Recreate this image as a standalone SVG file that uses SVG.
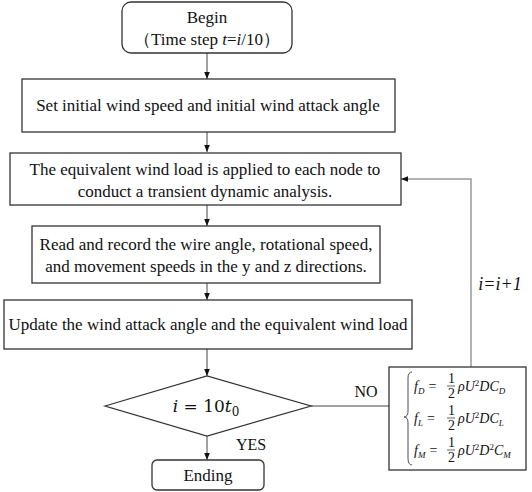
<svg xmlns="http://www.w3.org/2000/svg" width="532" height="492" viewBox="0 0 532 492">
<style>
.box{fill:#fff;stroke:#333;stroke-width:1.3}
.t{font-family:'Liberation Serif','Times New Roman',serif;font-size:17px;fill:#111;text-anchor:middle}
.f{font-family:'Liberation Serif','Times New Roman',serif;font-size:14px;fill:#111;font-style:italic}
.n{font-style:normal}
.ln{stroke:#444;stroke-width:1;fill:none}
.gl{stroke:#999;stroke-width:1.5;fill:none}
</style>
<defs>
<marker id="ah" viewBox="0 0 10 10" refX="10" refY="5" markerWidth="7" markerHeight="7" markerUnits="userSpaceOnUse" orient="auto">
<path d="M0,1 L10,5 L0,9 z" fill="#111"/>
</marker>
</defs>
<rect width="532" height="492" fill="#fff"/>
<g id="connectors">
<line class="ln" x1="207" y1="53" x2="207" y2="79" marker-end="url(#ah)"/>
<line class="ln" x1="207" y1="132" x2="207" y2="152" marker-end="url(#ah)"/>
<line class="ln" x1="207" y1="205" x2="207" y2="226" marker-end="url(#ah)"/>
<line class="ln" x1="207" y1="283" x2="207" y2="300" marker-end="url(#ah)"/>
<line class="ln" x1="207" y1="349" x2="207" y2="376" marker-end="url(#ah)"/>
<line class="ln" x1="207" y1="436" x2="207" y2="460" marker-end="url(#ah)"/>
<line class="ln" x1="311" y1="406" x2="389" y2="406"/>
<polyline class="gl" points="471,367 471,179 401,179" marker-end="url(#ah)"/>
<text class="t" x="366" y="397" style="font-size:16px">NO</text>
<text class="t" x="251" y="450" style="font-size:16px">YES</text>
<text class="t" x="500" y="290" style="font-style:italic;font-size:18px">i=i+1</text>
</g>
<g id="begin">
<rect class="box" x="122" y="2" width="170" height="51" rx="9"/>
<text class="t" x="207" y="23">Begin</text>
<text class="t" x="207" y="45">（Time step <tspan font-style="italic">t</tspan>=<tspan font-style="italic">i</tspan>/10）</text>
</g>
<g id="set">
<rect class="box" x="22" y="79" width="373" height="53"/>
<text class="t" x="208" y="111">Set initial wind speed and initial wind attack angle</text>
</g>
<g id="equivalent">
<rect class="box" x="10" y="153" width="391" height="52"/>
<text class="t" x="205" y="175">The equivalent wind load is applied to each node to</text>
<text class="t" x="205" y="197">conduct a transient dynamic analysis.</text>
</g>
<g id="read">
<rect class="box" x="32" y="226" width="348" height="57"/>
<text class="t" x="206" y="250">Read and record the wire angle, rotational speed,</text>
<text class="t" x="206" y="272">and movement speeds in the y and z directions.</text>
</g>
<g id="update">
<rect class="box" x="4" y="300" width="408" height="49"/>
<text class="t" x="208" y="330">Update the wind attack angle and the equivalent wind load</text>
</g>
<g id="decision">
<polygon class="box" points="105,406 207,376 311,406 207,436"/>
<text class="t" x="206" y="412" style="font-family:'DejaVu Serif',serif;font-size:17px"><tspan font-style="italic">i</tspan> = 10<tspan font-style="italic">t</tspan><tspan font-size="12" dy="4">0</tspan></text>
</g>
<g id="ending">
<rect class="box" x="152" y="460" width="112" height="30" rx="5"/>
<text class="t" x="208" y="481">Ending</text>
</g>
<g id="formula">
<rect class="box" x="389" y="367" width="137" height="103"/>
<g transform="translate(8,0)">
<path d="M404,372 Q400,372 400,378 L400,411 Q400,417 396,417 Q400,417 400,423 L400,458 Q400,465 404,465" fill="none" stroke="#222" stroke-width="0.8"/>
<text class="f" x="406" y="391">f<tspan font-size="9" dy="3">D</tspan><tspan class="n" dy="-3" dx="4">=</tspan></text>
<text class="f n" x="440" y="383" font-size="12">1</text>
<line x1="439" y1="386" x2="447" y2="386" stroke="#222" stroke-width="0.7"/>
<text class="f n" x="440" y="398" font-size="12">2</text>
<text class="f" x="450" y="391">ρU<tspan font-size="9" dy="-5" class="n">2</tspan><tspan dy="5">DC</tspan><tspan font-size="9" dy="3">D</tspan></text>
<text class="f" x="406" y="423">f<tspan font-size="9" dy="3">L</tspan><tspan class="n" dy="-3" dx="4">=</tspan></text>
<text class="f n" x="440" y="415" font-size="12">1</text>
<line x1="439" y1="418" x2="447" y2="418" stroke="#222" stroke-width="0.7"/>
<text class="f n" x="440" y="430" font-size="12">2</text>
<text class="f" x="450" y="423">ρU<tspan font-size="9" dy="-5" class="n">2</tspan><tspan dy="5">DC</tspan><tspan font-size="9" dy="3">L</tspan></text>
<text class="f" x="406" y="455">f<tspan font-size="9" dy="3">M</tspan><tspan class="n" dy="-3" dx="4">=</tspan></text>
<text class="f n" x="440" y="447" font-size="12">1</text>
<line x1="439" y1="450" x2="447" y2="450" stroke="#222" stroke-width="0.7"/>
<text class="f n" x="440" y="462" font-size="12">2</text>
<text class="f" x="450" y="455">ρU<tspan font-size="9" dy="-5" class="n">2</tspan><tspan dy="5">D</tspan><tspan font-size="9" dy="-5" class="n">2</tspan><tspan dy="5">C</tspan><tspan font-size="9" dy="3">M</tspan></text>
</g>
</g>
</svg>
